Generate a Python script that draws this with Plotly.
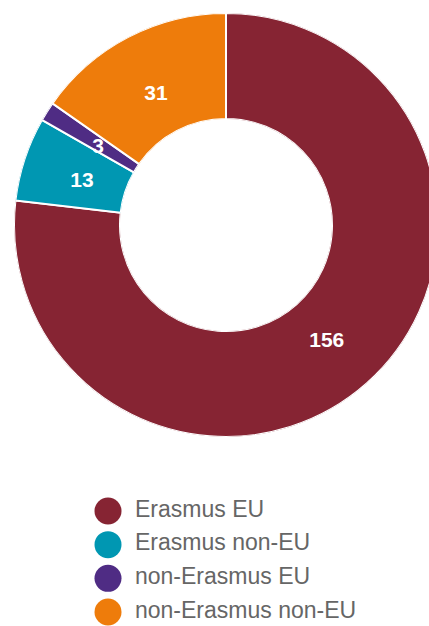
import plotly.graph_objects as go

categories = ["Erasmus EU", "Erasmus non-EU", "non-Erasmus EU", "non-Erasmus non-EU"]
values = [156, 13, 3, 31]
colors = ["#862433", "#0097B2", "#4F2C84", "#EE7C0B"]

W, H = 447, 626
R = 212
cx, cy = 226, 225
label_dy = 4  # vertical nudge of the value labels, px

domain = dict(x=[(cx - R) / W, (cx + R) / W], y=[1 - (cy + R) / H, 1 - (cy - R) / H])
label_domain = dict(x=domain["x"], y=[domain["y"][0] - label_dy / H, domain["y"][1] - label_dy / H])

# angular extent of each slice, computed from the values
total = sum(values)
widths = [v / total * 360 for v in values]
mid_theta = []
cum = 0
for w in widths:
    mid_theta.append(cum + w / 2)
    cum += w

fig = go.Figure()

fig.add_trace(go.Barpolar(
    r=[1] * len(values), theta=mid_theta, width=widths,
    marker=dict(color=colors, line=dict(color="white", width=2)),
    customdata=values, text=categories,
    hovertemplate="%{text}: %{customdata}<extra></extra>",
    showlegend=False,
))

fig.add_trace(go.Scatterpolar(
    r=[0.43] * len(values), theta=mid_theta, mode="text",
    text=[str(v) for v in values],
    textposition="middle center",
    textfont=dict(family="Liberation Sans, Arial, sans-serif", size=21, color="white", weight="bold"),
    showlegend=False, hoverinfo="skip", subplot="polar2",
))

idx = list(range(len(categories)))
fig.add_trace(go.Scatter(
    x=[0] * len(categories), y=idx, mode="markers",
    marker=dict(size=27, color=colors, line=dict(width=0)),
    showlegend=False, hoverinfo="skip",
))
fig.add_trace(go.Scatter(
    x=[27] * len(categories), y=idx, mode="text", text=categories,
    textposition="middle right",
    textfont=dict(family="Liberation Sans, Arial, sans-serif", size=23, color="#666666"),
    showlegend=False, hoverinfo="skip",
))

polar_common = dict(
    hole=0.5, bgcolor="rgba(0,0,0,0)",
    radialaxis=dict(range=[0, 1], visible=False, showgrid=False),
    angularaxis=dict(rotation=90, direction="clockwise", visible=False, showgrid=False),
)

fig.update_layout(
    width=W, height=H,
    margin=dict(l=0, r=0, t=0, b=0),
    paper_bgcolor="white", plot_bgcolor="rgba(0,0,0,0)",
    xaxis=dict(range=[-108, W - 108], visible=False, fixedrange=True),
    yaxis=dict(range=[(H - 511) / 33.67, -511 / 33.67], visible=False, fixedrange=True),
    polar=dict(domain=domain, **polar_common),
    polar2=dict(domain=label_domain, **polar_common),
)

fig.write_html(
    "out.html",
    config={"displayModeBar": False},
    post_script="document.body.style.margin='0';document.body.style.overflow='hidden';document.documentElement.style.overflow='hidden';",
)
